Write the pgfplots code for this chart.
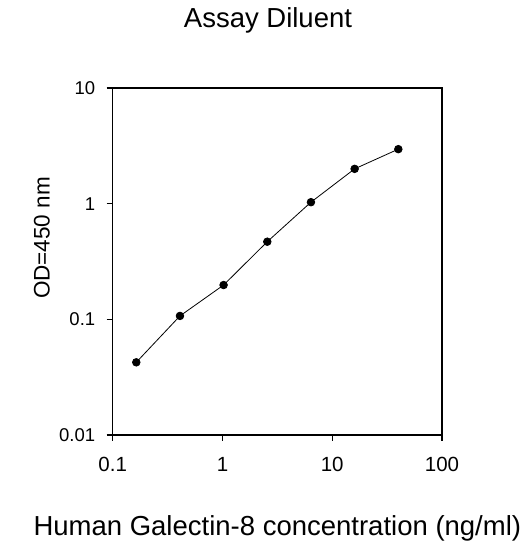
\documentclass[border=0pt]{standalone}
\usepackage{pgfplots}
\pgfplotsset{compat=1.18}
\usepackage{fontspec}
\setmainfont{Liberation Sans}
\begin{document}
\begin{tikzpicture}
\path[use as bounding box] (-112.7bp,-108bp) rectangle (414.3bp,435bp);
\begin{axis}[
  scale only axis,
  width=329.3bp, height=347bp,
  xmode=log, ymode=log,
  xmin=0.1, xmax=100, ymin=0.01, ymax=10,
  xtick={0.1,1,10,100}, xticklabels={0.1,1,10,100},
  ytick={0.01,0.1,1,10}, yticklabels={0.01,0.1,1,10},
  xminorticks=false, yminorticks=false,
  xtick pos=bottom, ytick pos=left,
  tick align=outside,
  major tick length=6bp,
  axis line style={line width=1.4bp},
  every tick/.style={black, line width=1.2bp},
  /pgf/number format/assume math mode=true,
  xticklabel style={font=\fontsize{20.5bp}{24bp}\selectfont, anchor=base, yshift=-31bp},
  yticklabel style={font=\fontsize{18.5bp}{22bp}\selectfont, anchor=east, xshift=-8bp},
  title={Assay Diluent},
  title style={font=\fontsize{27.5bp}{31bp}\selectfont, at={(axis description cs:0.4716,1.1585)}, anchor=base},
  xlabel={Human Galectin-8 concentration (ng/ml)},
  xlabel style={font=\fontsize{27.5bp}{31bp}\selectfont, at={(axis description cs:0.5,-0.2882)}, anchor=base},
  ylabel={OD=450 nm},
  ylabel style={font=\fontsize{22.5bp}{26bp}\selectfont, at={(axis description cs:-0.1913,0.5677)}, anchor=base, rotate=0},
  clip=false,
]
\addplot[black, line width=0.8bp, mark=*, mark size=3.8bp, mark options={fill=black}] coordinates {
  (0.164,0.0425)
  (0.41,0.107)
  (1.024,0.198)
  (2.56,0.469)
  (6.4,1.03)
  (16,2.0)
  (40,2.96)
};
\end{axis}
\end{tikzpicture}
\end{document}
